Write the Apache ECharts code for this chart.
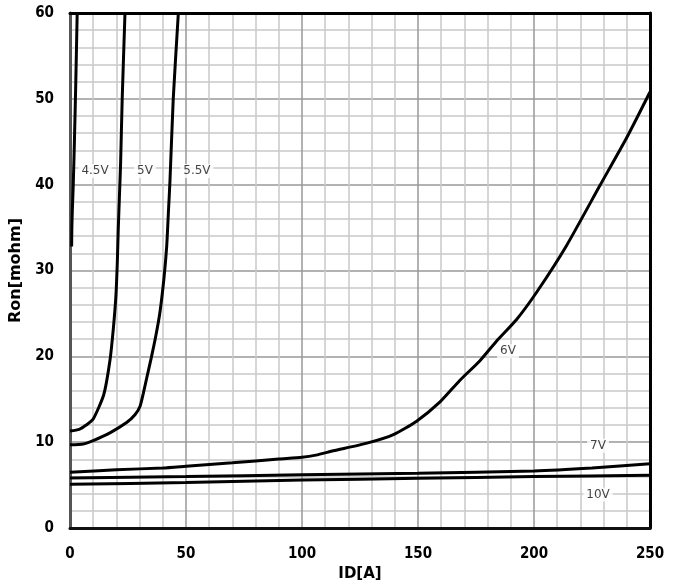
<!DOCTYPE html>
<html>
<head>
<meta charset="utf-8">
<script src="https://cdn.jsdelivr.net/npm/echarts@6/dist/echarts.min.js"></script>
<style>html,body{margin:0;padding:0;background:#fff;}#c{width:681px;height:587px;}</style>
</head>
<body>
<div id="c"></div>
<script>
// Curves: ID [A] vs Ron [mohm]
var v45X = [0.7, 0.8, 1.0, 1.4, 1.9, 2.5, 3.1];
var v45Y = [32.8, 35, 37, 40, 45, 52, 60];

var v5X = [0, 4, 7, 10, 14.5, 17.2, 18.7, 19.8, 20.4, 20.8, 21.3, 21.8, 22.5, 23.7];
var v5Y = [11.3, 11.5, 12.0, 12.7, 15.5, 19.5, 23.3, 27.1, 31, 34.8, 38.6, 42.4, 50, 60];

var v55X = [0, 5.7, 10, 17.2, 24.4, 28, 30.2, 31.6, 33, 35, 37, 38.8, 40.5, 41.7, 42.4, 43.1, 44.5, 46.7];
var v55Y = [9.7, 9.8, 10.2, 11.1, 12.3, 13.2, 14.2, 15.7, 17.4, 19.8, 22.4, 25.2, 29.1, 32.9, 36.7, 40.5, 50, 60];

var v6X = [0, 20, 40, 50, 70, 90, 100, 106, 113.5, 128, 139.4, 149.4, 159.5, 168, 176.7, 183.9, 192.5, 201.2, 214, 228.4, 240, 250];
var v6Y = [6.5, 6.8, 7.0, 7.2, 7.6, 8.05, 8.25, 8.5, 9.0, 9.9, 10.9, 12.45, 14.7, 17.2, 19.5, 21.8, 24.3, 27.5, 32.9, 39.9, 45.5, 50.8];

var v7X = [0, 50, 100, 150, 200, 225, 250];
var v7Y = [5.85, 6.0, 6.2, 6.4, 6.65, 7.0, 7.5];

var v10X = [0, 50, 100, 150, 200, 250];
var v10Y = [5.1, 5.3, 5.6, 5.8, 6.0, 6.15];

var labelText = ['4.5V', '5V', '5.5V', '6V', '7V', '10V'];
var labelX = [10.8, 32.3, 54.7, 188.8, 227.6, 227.6];
var labelY = [41.6, 41.6, 41.6, 20.6, 9.6, 3.9];

var xTicks = [0, 50, 100, 150, 200, 250];
var yTicks = [0, 10, 20, 30, 40, 50, 60];

function pairs(xs, ys) { return xs.map(function (x, i) { return [x, ys[i]]; }); }

var curves = [[v45X, v45Y], [v5X, v5Y], [v55X, v55Y], [v6X, v6Y], [v7X, v7Y], [v10X, v10Y]];
var series = curves.map(function (c) {
  return {
    type: 'line', data: pairs(c[0], c[1]), showSymbol: false, smooth: 0.2,
    lineStyle: { color: '#000', width: 3 }, z: 3, silent: true
  };
});
series.push({
  type: 'scatter', symbolSize: 0, z: 5, silent: true,
  data: labelX.map(function (x, i) { return { value: [x, labelY[i]], name: labelText[i] }; }),
  label: {
    show: true, position: 'inside', formatter: function (p) { return p.name; },
    color: '#111', fontFamily: 'DejaVu Sans', fontSize: 12,
    backgroundColor: '#fff', padding: [1, 3]
  }
});

var gridColors = ['#999999', '#c8c8c8', '#c8c8c8', '#c8c8c8', '#c8c8c8'];

function frameAxis(pos, min, max) {
  return {
    type: 'value', position: pos, min: min, max: max,
    axisLine: { show: true, onZero: false, lineStyle: { color: '#000', width: 3 } },
    axisTick: { show: false }, axisLabel: { show: false }, splitLine: { show: false }
  };
}

var chart = echarts.init(document.getElementById('c'), null, { renderer: 'canvas' });
chart.setOption({
  animation: false,
  backgroundColor: '#fff',
  grid: { left: 70, right: 31, top: 13, bottom: 50 },
  xAxis: [{
    type: 'value', min: 0, max: 250, interval: 10, position: 'bottom',
    name: 'ID[A]', nameLocation: 'middle', nameGap: 36,
    nameTextStyle: { fontFamily: 'DejaVu Sans', fontWeight: 'bold', fontSize: 15, color: '#000' },
    axisLine: { show: true, onZero: false, lineStyle: { color: '#111', width: 3 } },
    axisTick: { show: false },
    axisLabel: {
      margin: 19, fontFamily: 'DejaVu Sans Condensed', fontWeight: 'bold', fontSize: 15, color: '#000',
      formatter: function (v) { return xTicks.indexOf(v) >= 0 ? String(v) : ''; }
    },
    splitLine: { show: true, lineStyle: { color: gridColors, width: 1.5 } }
  }, frameAxis('top', 0, 250)],
  yAxis: [{
    type: 'value', min: 0, max: 60, interval: 2, position: 'left',
    name: 'Ron[mohm]', nameLocation: 'middle', nameGap: 40, nameRotate: 90,
    nameTextStyle: { fontFamily: 'DejaVu Sans', fontWeight: 'bold', fontSize: 16, color: '#000' },
    axisLine: { show: true, onZero: false, lineStyle: { color: '#555', width: 3 } },
    axisTick: { show: false },
    axisLabel: {
      margin: 16, fontFamily: 'DejaVu Sans Condensed', fontWeight: 'bold', fontSize: 15, color: '#000',
      formatter: function (v) { return yTicks.indexOf(v) >= 0 ? String(v) : ''; }
    },
    splitLine: { show: true, lineStyle: { color: gridColors, width: 1.5 } }
  }, frameAxis('right', 0, 60)],
  series: series
});
</script>
</body>
</html>
